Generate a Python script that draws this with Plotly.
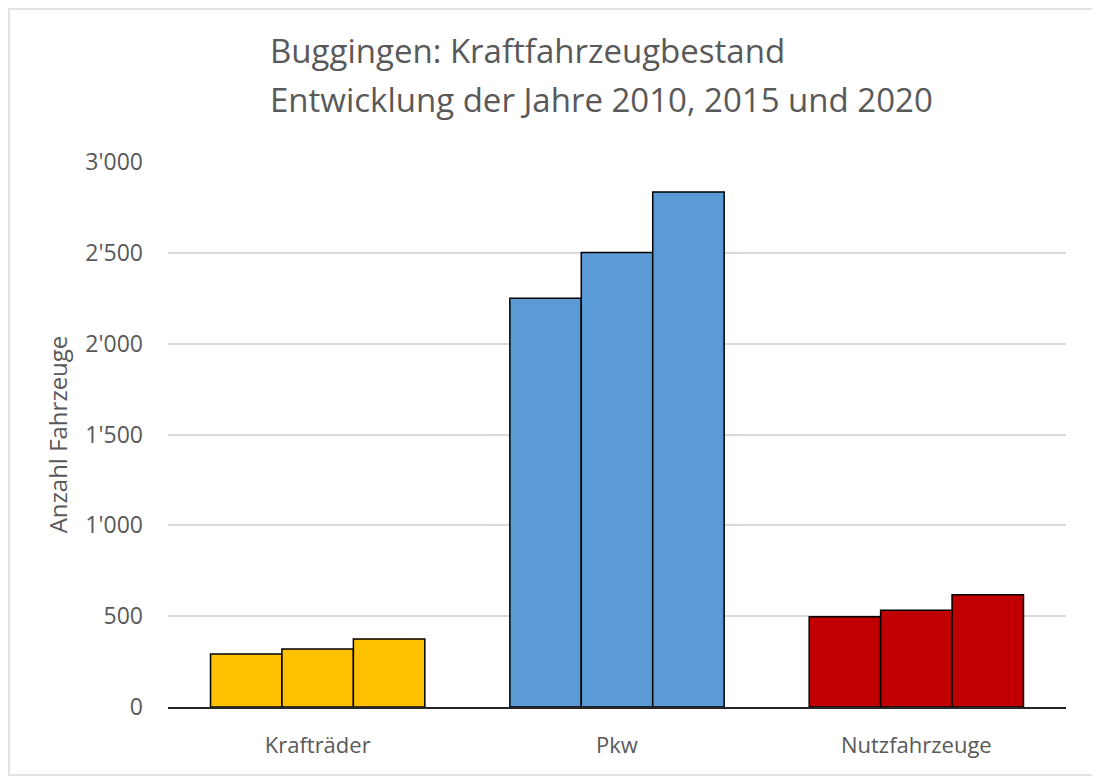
import plotly.graph_objects as go

# Kategorien und Bestand je Jahr
categories = ["Krafträder", "Pkw", "Nutzfahrzeuge"]
years = ["2010", "2015", "2020"]
values_2010 = [292, 2250, 497]
values_2015 = [319, 2502, 533]
values_2020 = [374, 2835, 618]
bar_colors = ["#FFC000", "#5B9BD5", "#C00000"]
title_lines = ["Buggingen: Kraftfahrzeugbestand",
               "Entwicklung der Jahre 2010, 2015 und 2020"]

series = {"2010": values_2010, "2015": values_2015, "2020": values_2020}

fig = go.Figure()
for year in years:
    fig.add_trace(go.Bar(
        x=categories,
        y=series[year],
        name=year,
        marker=dict(color=bar_colors, line=dict(color="#000000", width=1.5)),
    ))

text_color = "#595959"
font_family = "Open Sans"

fig.update_layout(
    width=1092, height=770,
    margin=dict(l=160, r=34, t=154, b=71),
    paper_bgcolor="white", plot_bgcolor="white",
    barmode="group", bargap=0.284, bargroupgap=0,
    showlegend=False,
    separators=".'",
    font=dict(family=font_family, color=text_color),
)

# Titel: zwei linksbündige Zeilen
for line, ypos in zip(title_lines, [1.2055, 1.1138]):
    fig.add_annotation(
        text=line, xref="paper", yref="paper",
        x=0.1114, y=ypos, xanchor="left", yanchor="middle",
        showarrow=False, font=dict(size=33, color=text_color, family=font_family),
    )

fig.update_yaxes(
    range=[0, 3000], dtick=500, tickformat=",",
    showgrid=True, gridcolor="#D9D9D9", gridwidth=1.5,
    zeroline=False, showline=False,
    ticks="", ticklabelstandoff=24,
    tickfont=dict(size=23, color=text_color),
    title=dict(text="Anzahl Fahrzeuge", font=dict(size=24, color=text_color), standoff=10),
)
fig.update_xaxes(
    showline=True, linecolor="#262626", linewidth=1.5,
    showgrid=False, ticks="",
    tickfont=dict(size=22, color=text_color),
    ticklabelstandoff=18,
)

# grauer Rahmen um das Diagramm
fig.add_shape(
    type="rect", xref="paper", yref="paper",
    x0=-0.177, x1=1.0345, y0=-0.1248, y1=1.2807,
    line=dict(color="#D9D9D9", width=1.5), fillcolor="rgba(0,0,0,0)", layer="below",
)

fig.write_html("out.html")
